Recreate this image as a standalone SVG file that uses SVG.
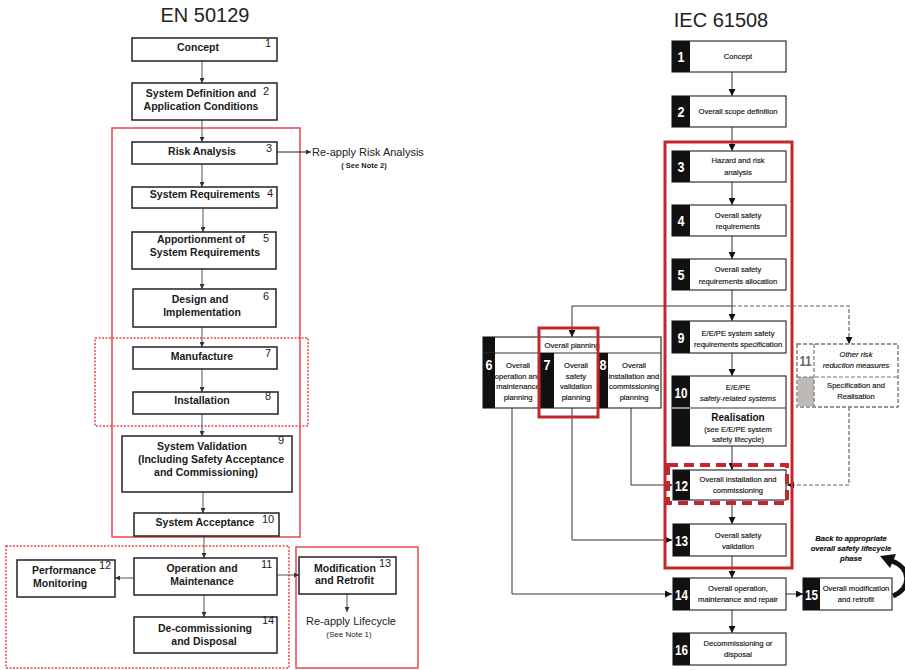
<svg xmlns="http://www.w3.org/2000/svg" width="905" height="670" viewBox="0 0 905 670">
  <style>
    .title { font-family: "Liberation Sans", Arial, sans-serif; font-size: 20px; fill: #222; text-anchor: middle; }
    .lb { fill: #fff; stroke: #222; stroke-width: 1.5; }
    .lt { font-family: "Liberation Sans", Arial, sans-serif; font-size: 10.5px; font-weight: bold; fill: #1a1a1a; text-anchor: middle; }
    .ls { font-family: "Liberation Sans", Arial, sans-serif; font-size: 10.5px; font-weight: bold; fill: #1a1a1a; }
    .ln { font-family: "Liberation Sans", Arial, sans-serif; font-size: 11px; fill: #222; }
    .note { font-family: "Liberation Sans", Arial, sans-serif; font-size: 11px; fill: #222; text-anchor: middle; }
    .noteS { font-family: "Liberation Sans", Arial, sans-serif; font-size: 7.5px; fill: #222; text-anchor: middle; }
    .redS { fill: none; stroke: #e8474c; stroke-width: 1.5; }
    .redD { fill: none; stroke: #e8474c; stroke-width: 1.5; stroke-dasharray: 2 1.5; }
    .lc { fill: none; stroke: #555; stroke-width: 1; marker-end: url(#ahL); }
    .rb { fill: #fff; stroke: #333; stroke-width: 1.2; }
    .bar { fill: #111; }
    .rt { font-family: "Liberation Sans", Arial, sans-serif; font-size: 7.6px; fill: #111; stroke: #111; stroke-width: 0.15; text-anchor: middle; }
    .ri { font-family: "Liberation Sans", Arial, sans-serif; font-size: 7.6px; font-style: italic; fill: #111; stroke: #111; stroke-width: 0.15; text-anchor: middle; }
    .num { font-family: "Liberation Sans", Arial, sans-serif; font-size: 15px; font-weight: bold; fill: #fff; text-anchor: middle; }
    .rc { fill: none; stroke: #333; stroke-width: 1; marker-end: url(#ahR); }
    .rd { fill: none; stroke: #666; stroke-width: 1.2; stroke-dasharray: 4 2; marker-end: url(#ahR); }
    .redR { fill: none; stroke: #c0282d; stroke-width: 3; }
  </style>
  <defs>
    <marker id="ahL" viewBox="0 0 6 6" refX="6" refY="3" markerWidth="5" markerHeight="5" orient="auto" markerUnits="userSpaceOnUse">
      <path d="M0,0 L6,3 L0,6 z" fill="#333"/>
    </marker>
    <marker id="ahR" viewBox="0 0 8 8" refX="8" refY="4" markerWidth="7" markerHeight="7" orient="auto" markerUnits="userSpaceOnUse">
      <path d="M0,0 L8,4 L0,8 z" fill="#111"/>
    </marker>
  </defs>
  <rect width="905" height="670" fill="#fff"/>

  <!-- ===== EN 50129 lifecycle ===== -->
  <text class="title" x="205" y="22">EN 50129</text>

  <g id="en-groups">
    <rect class="redS" x="112" y="128" width="188" height="409"/>
    <rect class="redD" x="95" y="338" width="213" height="88"/>
    <rect class="redD" x="6" y="546" width="283" height="122"/>
    <rect class="redS" x="296" y="547" width="122" height="121"/>
  </g>

  <g id="en-connectors">
    <path class="lc" d="M202,61 V83"/>
    <path class="lc" d="M202,120 V142"/>
    <path class="lc" d="M202,164 V187"/>
    <path class="lc" d="M203,208 V232"/>
    <path class="lc" d="M202,269 V289"/>
    <path class="lc" d="M202,327 V347"/>
    <path class="lc" d="M202,369 V392"/>
    <path class="lc" d="M202,414 V436"/>
    <path class="lc" d="M203,492 V513"/>
    <path class="lc" d="M204,536 V558"/>
    <path class="lc" d="M204,595 V617"/>
    <path class="lc" d="M134,578 H115"/>
    <path class="lc" d="M277,575 H299"/>
    <path class="lc" d="M347,594 V612"/>
    <path class="lc" d="M277,152 H311" style="stroke:#222"/>
  </g>

  <g id="en-1">
    <rect class="lb" x="132" y="38" width="145" height="23"/>
    <text class="lt" x="198" y="51">Concept</text>
    <text class="ln" x="265" y="47">1</text>
  </g>
  <g id="en-2">
    <rect class="lb" x="132" y="83" width="145" height="37"/>
    <text class="lt" x="201" y="97">System Definition and</text>
    <text class="lt" x="201" y="110">Application Conditions</text>
    <text class="ln" x="263" y="95">2</text>
  </g>
  <g id="en-3">
    <rect class="lb" x="132" y="142" width="145" height="22"/>
    <text class="lt" x="202" y="155">Risk Analysis</text>
    <text class="ln" x="266" y="152">3</text>
  </g>
  <g id="en-note2">
    <text class="ln" x="312" y="156">Re-apply Risk Analysis</text>
    <text class="noteS" x="364" y="168" font-weight="bold">( See Note 2)</text>
  </g>
  <g id="en-4">
    <rect class="lb" x="132" y="187" width="145" height="21"/>
    <text class="lt" x="205" y="198">System Requirements</text>
    <text class="ln" x="267" y="197">4</text>
  </g>
  <g id="en-5">
    <rect class="lb" x="132" y="232" width="144" height="37"/>
    <text class="lt" x="201" y="243">Apportionment of</text>
    <text class="lt" x="205" y="256">System Requirements</text>
    <text class="ln" x="263" y="242">5</text>
  </g>
  <g id="en-6">
    <rect class="lb" x="133" y="289" width="143" height="38"/>
    <text class="lt" x="200" y="303">Design and</text>
    <text class="lt" x="202" y="316">Implementation</text>
    <text class="ln" x="263" y="300">6</text>
  </g>
  <g id="en-7">
    <rect class="lb" x="133" y="347" width="144" height="22"/>
    <text class="lt" x="202" y="360">Manufacture</text>
    <text class="ln" x="265" y="357">7</text>
  </g>
  <g id="en-8">
    <rect class="lb" x="133" y="392" width="145" height="22"/>
    <text class="lt" x="202" y="404">Installation</text>
    <text class="ln" x="265" y="400">8</text>
  </g>
  <g id="en-9">
    <rect class="lb" x="122" y="436" width="170" height="56"/>
    <text class="lt" x="202" y="450">System Validation</text>
    <text class="lt" x="211" y="463">(Including Safety Acceptance</text>
    <text class="lt" x="206" y="476">and Commissioning)</text>
    <text class="ln" x="278" y="444">9</text>
  </g>
  <g id="en-10">
    <rect class="lb" x="134" y="513" width="145" height="23"/>
    <text class="lt" x="205" y="526">System Acceptance</text>
    <text class="ln" x="262" y="523">10</text>
  </g>
  <g id="en-11">
    <rect class="lb" x="134" y="558" width="143" height="37"/>
    <text class="lt" x="202" y="572">Operation and</text>
    <text class="lt" x="202" y="585">Maintenance</text>
    <text class="ln" x="261" y="568">11</text>
  </g>
  <g id="en-12">
    <rect class="lb" x="17" y="560" width="98" height="37"/>
    <text class="ls" x="32" y="574">Performance</text>
    <text class="ls" x="33" y="587">Monitoring</text>
    <text class="ln" x="99" y="569">12</text>
  </g>
  <g id="en-13">
    <rect class="lb" x="299" y="557" width="97" height="37"/>
    <text class="ls" x="314" y="572">Modification</text>
    <text class="ls" x="315" y="584">and Retrofit</text>
    <text class="ln" x="379" y="567">13</text>
  </g>
  <g id="en-note1">
    <text class="note" x="351" y="625">Re-apply Lifecycle</text>
    <text class="noteS" x="349" y="637" style="font-size:8px">(See Note 1)</text>
  </g>
  <g id="en-14">
    <rect class="lb" x="134" y="617" width="143" height="36"/>
    <text class="lt" x="205" y="632">De-commissioning</text>
    <text class="lt" x="204" y="645">and Disposal</text>
    <text class="ln" x="262" y="624">14</text>
  </g>

  <!-- ===== IEC 61508 lifecycle ===== -->
  <text class="title" x="721" y="27">IEC 61508</text>

  <g id="iec-connectors">
    <path class="rc" d="M732,72 V96"/>
    <path class="rc" d="M732,127 V151"/>
    <path class="rc" d="M732,182 V205"/>
    <path class="rc" d="M732,236 V259"/>
    <path class="rc" d="M732,290 V321"/>
    <path class="rc" d="M732,353 V376"/>
    <path class="rc" d="M732,446 V470"/>
    <path class="rc" d="M732,500 V524"/>
    <path class="rc" d="M732,556 V578"/>
    <path class="rc" d="M732,610 V633"/>
    <path class="rc" d="M732,306 H572 V337"/>
    <path class="rd" d="M732,306 H849 V344"/>
    <path class="rd" d="M849,407 V485 H787"/>
    <path class="rc" d="M512,408 V594 H672"/>
    <path class="rc" d="M572,408 V540 H672"/>
    <path class="rc" d="M631,408 V485 H672"/>
    <path class="rc" d="M786,594 H803"/>
    <path d="M893,596 C912,588 911,568 892,561" fill="none" stroke="#111" stroke-width="5"/>
    <polygon points="880,556 896,554 890,568" fill="#111"/>
  </g>

  <g id="iec-1">
    <rect class="rb" x="672" y="41" width="114" height="31"/>
    <rect class="bar" x="672" y="41" width="18" height="31"/>
    <text class="num" x="681" y="62" textLength="7" lengthAdjust="spacingAndGlyphs">1</text>
    <text class="rt" x="738" y="59">Concept</text>
  </g>
  <g id="iec-2">
    <rect class="rb" x="672" y="96" width="114" height="31"/>
    <rect class="bar" x="672" y="96" width="18" height="31"/>
    <text class="num" x="681" y="117" textLength="7" lengthAdjust="spacingAndGlyphs">2</text>
    <text class="rt" x="738" y="114">Overall scope definition</text>
  </g>
  <g id="iec-3">
    <rect class="rb" x="672" y="151" width="114" height="31"/>
    <rect class="bar" x="672" y="151" width="18" height="31"/>
    <text class="num" x="681" y="172" textLength="7" lengthAdjust="spacingAndGlyphs">3</text>
    <text class="rt" x="738" y="163">Hazard and risk</text>
    <text class="rt" x="738" y="175">analysis</text>
  </g>
  <g id="iec-4">
    <rect class="rb" x="672" y="205" width="114" height="31"/>
    <rect class="bar" x="672" y="205" width="18" height="31"/>
    <text class="num" x="681" y="226" textLength="7" lengthAdjust="spacingAndGlyphs">4</text>
    <text class="rt" x="738" y="218">Overall safety</text>
    <text class="rt" x="738" y="229">requirements</text>
  </g>
  <g id="iec-5">
    <rect class="rb" x="672" y="259" width="114" height="31"/>
    <rect class="bar" x="672" y="259" width="18" height="31"/>
    <text class="num" x="681" y="280" textLength="7" lengthAdjust="spacingAndGlyphs">5</text>
    <text class="rt" x="738" y="272">Overall safety</text>
    <text class="rt" x="738" y="284">requirements allocation</text>
  </g>
  <g id="iec-9">
    <rect class="rb" x="672" y="321" width="114" height="32"/>
    <rect class="bar" x="672" y="321" width="18" height="32"/>
    <text class="num" x="681" y="342.5" textLength="7" lengthAdjust="spacingAndGlyphs">9</text>
    <text class="rt" x="738" y="336">E/E/PE system safety</text>
    <text class="rt" x="738" y="347">requirements specification</text>
  </g>
  <g id="iec-10">
    <rect class="rb" x="672" y="376" width="114" height="70"/>
    <rect class="bar" x="672" y="376" width="18" height="70"/>
    <line x1="672" y1="408" x2="786" y2="408" stroke="#333" stroke-width="1.2"/>
    <line x1="672" y1="408" x2="690" y2="408" stroke="#fff" stroke-width="1"/>
    <text class="num" x="681" y="397.5" textLength="13" lengthAdjust="spacingAndGlyphs">10</text>
    <text class="rt" x="738" y="390">E/E/PE</text>
    <text class="ri" x="738" y="401">safety-related systems</text>
    <text class="rt" x="738" y="421" style="font-size:10px;font-weight:bold;stroke-width:0">Realisation</text>
    <text class="rt" x="738" y="432">(see E/E/PE system</text>
    <text class="rt" x="738" y="442">safety lifecycle)</text>
  </g>
  <g id="iec-12">
    <rect class="rb" x="673" y="470" width="113" height="30"/>
    <rect class="bar" x="673" y="470" width="17" height="30"/>
    <text class="num" x="681.5" y="490.5" textLength="13" lengthAdjust="spacingAndGlyphs">12</text>
    <text class="rt" x="738" y="482">Overall installation and</text>
    <text class="rt" x="738" y="493">commissioning</text>
  </g>
  <g id="iec-13">
    <rect class="rb" x="673" y="524" width="113" height="32"/>
    <rect class="bar" x="673" y="524" width="17" height="32"/>
    <text class="num" x="681.5" y="545.5" textLength="13" lengthAdjust="spacingAndGlyphs">13</text>
    <text class="rt" x="738" y="538">Overall safety</text>
    <text class="rt" x="738" y="549">validation</text>
  </g>
  <g id="iec-14">
    <rect class="rb" x="673" y="578" width="113" height="32"/>
    <rect class="bar" x="673" y="578" width="17" height="32"/>
    <text class="num" x="681.5" y="599.5" textLength="13" lengthAdjust="spacingAndGlyphs">14</text>
    <text class="rt" x="738" y="591">Overall operation,</text>
    <text class="rt" x="738" y="602">maintenance and repair</text>
  </g>
  <g id="iec-15">
    <rect class="rb" x="803" y="578" width="89" height="32"/>
    <rect class="bar" x="803" y="578" width="17" height="32"/>
    <text class="num" x="811.5" y="599.5" textLength="13" lengthAdjust="spacingAndGlyphs">15</text>
    <text class="rt" x="856" y="591">Overall modification</text>
    <text class="rt" x="856" y="602">and retrofit</text>
  </g>
  <g id="iec-back-note">
    <text class="ri" x="851" y="541" font-weight="bold">Back to appropriate</text>
    <text class="ri" x="851" y="551" font-weight="bold">overall safety lifecycle</text>
    <text class="ri" x="851" y="561" font-weight="bold">phase</text>
  </g>
  <g id="iec-16">
    <rect class="rb" x="673" y="633" width="113" height="32"/>
    <rect class="bar" x="673" y="633" width="17" height="32"/>
    <text class="num" x="681.5" y="654.5" textLength="13" lengthAdjust="spacingAndGlyphs">16</text>
    <text class="rt" x="738" y="646">Decommissioning or</text>
    <text class="rt" x="738" y="657">disposal</text>
  </g>

  <g id="iec-planning">
    <rect class="rb" x="483" y="337" width="178" height="71"/>
    <rect class="bar" x="483" y="337" width="12" height="16"/>
    <line x1="483" y1="353" x2="661" y2="353" stroke="#333" stroke-width="1.2"/>
    <text class="rt" x="572" y="348">Overall planning</text>
  </g>
  <g id="iec-6">
    <rect class="bar" x="483" y="353" width="12" height="55"/>
    <text class="num" x="489" y="370" textLength="7" lengthAdjust="spacingAndGlyphs">6</text>
    <text class="rt" x="518" y="368">Overall</text>
    <text class="rt" x="518" y="378.5">operation and</text>
    <text class="rt" x="518" y="389">maintenance</text>
    <text class="rt" x="518" y="399.5">planning</text>
  </g>
  <g id="iec-7">
    <line x1="540" y1="353" x2="540" y2="408" stroke="#333" stroke-width="1.2"/>
    <rect class="bar" x="540" y="353" width="14" height="55"/>
    <text class="num" x="547" y="370" textLength="7" lengthAdjust="spacingAndGlyphs">7</text>
    <text class="rt" x="576" y="368">Overall</text>
    <text class="rt" x="576" y="378.5">safety</text>
    <text class="rt" x="576" y="389">validation</text>
    <text class="rt" x="576" y="399.5">planning</text>
  </g>
  <g id="iec-8">
    <line x1="598" y1="353" x2="598" y2="408" stroke="#333" stroke-width="1.2"/>
    <rect class="bar" x="598" y="353" width="10" height="55"/>
    <text class="num" x="603" y="370" textLength="7" lengthAdjust="spacingAndGlyphs">8</text>
    <text class="rt" x="634" y="368">Overall</text>
    <text class="rt" x="634" y="378.5">installation and</text>
    <text class="rt" x="634" y="389">commissioning</text>
    <text class="rt" x="634" y="399.5">planning</text>
  </g>
  <g id="iec-11">
    <rect x="797" y="344" width="101" height="63" fill="#fff" stroke="#777" stroke-width="1.4" stroke-dasharray="4 2"/>
    <rect x="797.7" y="377" width="16.3" height="29.3" fill="#bdbab5"/>
    <line x1="797" y1="377" x2="898" y2="377" stroke="#777" stroke-width="1.2" stroke-dasharray="4 2"/>
    <line x1="814" y1="344" x2="814" y2="407" stroke="#777" stroke-width="1.2" stroke-dasharray="4 2"/>
    <text class="num" x="805.5" y="366" style="fill:#666" textLength="12" lengthAdjust="spacingAndGlyphs">11</text>
    <text class="ri" x="856" y="357">Other risk</text>
    <text class="ri" x="856" y="368">reduction measures</text>
    <text class="rt" x="856" y="388">Specification and</text>
    <text class="rt" x="856" y="399">Realisation</text>
  </g>

  <g id="iec-groups">
    <rect class="redR" x="665" y="142" width="127" height="426"/>
    <rect class="redR" x="539" y="328" width="59" height="89"/>
    <rect x="668" y="465" width="119" height="38" fill="none" stroke="#c0282d" stroke-width="4" stroke-dasharray="10 6"/>
  </g>
</svg>
